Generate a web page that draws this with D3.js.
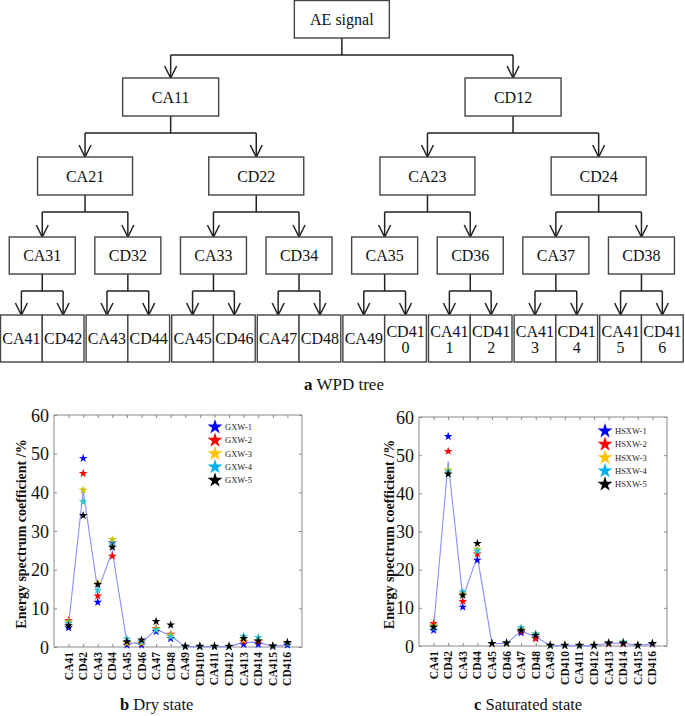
<!DOCTYPE html>
<html><head><meta charset="utf-8">
<script src="https://cdn.jsdelivr.net/npm/d3@7"></script>
<style>
html,body{margin:0;padding:0;background:#fff;}
svg{display:block;}
</style></head>
<body>
<svg id="c" width="685" height="716" font-family="Liberation Serif, Times New Roman, serif"></svg>
<script>
// ---------- DATA ----------
const level0 = ["AE signal"];
const level1 = ["CA11", "CD12"];
const level2 = ["CA21", "CD22", "CA23", "CD24"];
const level3 = ["CA31", "CD32", "CA33", "CD34", "CA35", "CD36", "CA37", "CD38"];
const categories = ["CA41","CD42","CA43","CD44","CA45","CD46","CA47","CD48","CA49","CD410","CA411","CD412","CA413","CD414","CA415","CD416"];
const yTicks = [0, 10, 20, 30, 40, 50, 60];

const dryNames = ["GXW-1", "GXW-2", "GXW-3", "GXW-4", "GXW-5"];
const gxw1 = [5.0, 48.8, 11.6, 27.0, 0.5, 0.5, 4.0, 2.2, 0.1, 0.1, 0.1, 0.1, 0.7, 0.7, 0.1, 0.5];
const gxw2 = [6.8, 44.9, 13.2, 23.5, 1.2, 1.0, 4.8, 3.3, 0.1, 0.1, 0.1, 0.1, 1.4, 1.4, 0.2, 0.9];
const gxw3 = [6.5, 40.6, 16.5, 27.8, 1.0, 1.1, 4.7, 3.1, 0.1, 0.1, 0.1, 0.1, 1.8, 1.7, 0.2, 1.1];
const gxw4 = [6.1, 37.6, 14.7, 26.4, 2.1, 1.4, 4.4, 2.7, 0.1, 0.1, 0.1, 0.1, 2.8, 2.5, 0.2, 0.9];
const gxw5 = [5.5, 34.0, 16.2, 25.8, 1.4, 1.8, 6.6, 5.7, 0.2, 0.2, 0.2, 0.2, 2.2, 1.6, 0.3, 1.2];
const dryLine = [5.9, 40.5, 14.5, 24.8, 1.0, 1.0, 4.6, 2.9, 0.1, 0.1, 0.1, 0.1, 1.2, 1.2, 0.2, 0.6];

const satNames = ["HSXW-1", "HSXW-2", "HSXW-3", "HSXW-4", "HSXW-5"];
const hsxw1 = [4.1, 54.9, 10.2, 22.5, 0.6, 0.7, 3.5, 2.1, 0.1, 0.1, 0.1, 0.1, 0.6, 0.6, 0.1, 0.5];
const hsxw2 = [5.9, 51.0, 11.7, 24.1, 0.6, 0.7, 3.9, 1.9, 0.1, 0.1, 0.1, 0.1, 0.6, 0.6, 0.1, 0.6];
const hsxw3 = [5.3, 46.1, 13.7, 25.4, 0.7, 0.8, 4.4, 3.0, 0.1, 0.1, 0.1, 0.1, 0.8, 0.9, 0.1, 0.7];
const hsxw4 = [4.7, 45.7, 14.2, 24.9, 0.7, 0.8, 4.8, 3.2, 0.1, 0.1, 0.1, 0.1, 0.8, 1.05, 0.1, 0.7];
const hsxw5 = [5.0, 45.1, 13.3, 26.9, 0.7, 0.8, 4.1, 2.8, 0.2, 0.2, 0.2, 0.2, 0.8, 0.8, 0.2, 0.7];
const satLine = [4.8, 48.3, 12.6, 23.5, 0.6, 0.7, 3.9, 2.4, 0.1, 0.1, 0.1, 0.1, 0.7, 0.8, 0.1, 0.6];

const markerColors = ["#0000ff", "#ff0000", "#c8c400", "#30c4cc", "#000000"];
const legendColors = ["#0000ff", "#ff0000", "#ffc000", "#00b0f0", "#000000"];

// ---------- TREE ----------
const FONT = "Liberation Serif, Times New Roman, serif";
const svg = d3.select("#c");
const ink = "#222";
const levels = [level0, level1, level2, level3, categories];
const boxY = [[0.5, 38], [78, 116], [157, 195], [237, 274], [315, 362]];
const boxW = [95, 96, 95, 66, 41.75];
const connY = [55, 133, 212, 291];
const pairStep = 85.6, leafW = 41.75;

const centers = [];
centers[4] = categories.map((d, i) => Math.floor(i / 2) * pairStep + (i % 2) * leafW + 0.5 + leafW / 2);
centers[3] = level3.map((d, p) => p * pairStep + 0.5 + leafW);
for (let L = 2; L >= 0; L--) {
  centers[L] = levels[L].map((d, i) => (centers[L + 1][2 * i] + centers[L + 1][2 * i + 1]) / 2);
}

const tree = svg.append("g");
for (let L = 0; L < 4; L++) {
  levels[L].forEach((d, i) => {
    const px = centers[L][i];
    const c1 = centers[L + 1][2 * i], c2 = centers[L + 1][2 * i + 1];
    tree.append("line").attr("x1", px).attr("x2", px).attr("y1", boxY[L][1]).attr("y2", connY[L])
      .attr("stroke", ink).attr("stroke-width", 1.5);
    tree.append("line").attr("x1", c1).attr("x2", c2).attr("y1", connY[L]).attr("y2", connY[L])
      .attr("stroke", ink).attr("stroke-width", 1.5);
    [c1, c2].forEach(cx => {
      const top = boxY[L + 1][0];
      tree.append("line").attr("x1", cx).attr("x2", cx).attr("y1", connY[L]).attr("y2", top)
        .attr("stroke", ink).attr("stroke-width", 1.5);
      tree.append("path").attr("d", `M${cx - 6},${top - 12}L${cx},${top}L${cx + 6},${top - 12}`)
        .attr("fill", "none").attr("stroke", ink).attr("stroke-width", 1.5);
    });
  });
}
levels.forEach((names, L) => {
  names.forEach((name, i) => {
    const cx = centers[L][i], w = boxW[L];
    const [y0, y1] = boxY[L];
    tree.append("rect").attr("x", cx - w / 2).attr("y", y0).attr("width", w).attr("height", y1 - y0)
      .attr("fill", "#fff").attr("stroke", "#444").attr("stroke-width", 1.4);
    const cy = (y0 + y1) / 2;
    if (L === 4 && name.length > 4) {
      const t = tree.append("text").attr("text-anchor", "middle").attr("font-family", FONT).attr("font-size", 16).attr("fill", "#111");
      t.append("tspan").attr("x", cx).attr("y", cy - 2).text(name.slice(0, 4));
      t.append("tspan").attr("x", cx).attr("y", cy + 14).text(name.slice(4));
    } else {
      tree.append("text").attr("x", cx).attr("y", cy).attr("dy", "0.35em").attr("text-anchor", "middle")
        .attr("font-family", FONT).attr("font-size", 16).attr("fill", "#111").text(name);
    }
  });
});

const capA = svg.append("text").attr("x", 344).attr("y", 390).attr("text-anchor", "middle").attr("font-family", FONT).attr("font-size", 17).attr("fill", "#111");
capA.append("tspan").attr("font-weight", "bold").text("a");
capA.append("tspan").text(" WPD tree");

// ---------- CHARTS ----------
function drawChart(opt) {
  const g = svg.append("g");
  const x = d3.scaleLinear().domain([0, 17]).range([opt.left, opt.right]);
  const y = d3.scaleLinear().domain([0, 60]).range([opt.bottom, opt.top]);
  const xPos = i => x(i + 1);

  g.append("rect").attr("x", opt.left).attr("y", opt.top).attr("width", opt.right - opt.left)
    .attr("height", opt.bottom - opt.top).attr("fill", "none").attr("stroke", "#8a8a8a").attr("stroke-width", 1);

  const yAxisL = d3.axisLeft(y).tickValues(yTicks).tickSizeInner(-3).tickSizeOuter(0).tickPadding(5);
  const gyl = g.append("g").attr("transform", `translate(${opt.left},0)`).call(yAxisL);
  gyl.select(".domain").remove();
  gyl.selectAll(".tick line").attr("stroke", "#8a8a8a");
  gyl.selectAll(".tick text").attr("font-family", FONT).attr("font-size", 18).attr("fill", "#111").attr("dy", "0.34em");

  const yAxisR = d3.axisRight(y).tickValues(yTicks).tickSizeInner(-3).tickSizeOuter(0).tickFormat("");
  const gyr = g.append("g").attr("transform", `translate(${opt.right},0)`).call(yAxisR);
  gyr.select(".domain").remove();
  gyr.selectAll(".tick line").attr("stroke", "#8a8a8a");

  const xAxisB = d3.axisBottom(x).tickValues(d3.range(1, 17)).tickSizeInner(-3).tickSizeOuter(0).tickFormat("");
  const gxb = g.append("g").attr("transform", `translate(0,${opt.bottom})`).call(xAxisB);
  gxb.select(".domain").remove();
  gxb.selectAll(".tick line").attr("stroke", "#8a8a8a");
  const xAxisT = d3.axisTop(x).tickValues(d3.range(1, 17)).tickSizeInner(-3).tickSizeOuter(0).tickFormat("");
  const gxt = g.append("g").attr("transform", `translate(0,${opt.top})`).call(xAxisT);
  gxt.select(".domain").remove();
  gxt.selectAll(".tick line").attr("stroke", "#8a8a8a");

  categories.forEach((c, i) => {
    g.append("text").attr("transform", `translate(${xPos(i) + 4},${opt.bottom + 5}) rotate(-90)`)
      .attr("text-anchor", "end").attr("font-family", FONT).attr("font-size", 11.5).attr("font-weight", "bold").attr("fill", "#111").text(c);
  });

  g.append("text").attr("transform", `translate(${opt.ylabX},${(opt.top + opt.bottom) / 2 + 3}) rotate(-90)`)
    .attr("text-anchor", "middle").attr("font-family", FONT).attr("font-size", 14).attr("font-weight", "bold").attr("fill", "#111")
    .text("Energy spectrum coefficient /%");

  const line = d3.line().x((d, i) => xPos(i)).y(d => y(d));
  g.append("path").attr("d", line(opt.line)).attr("fill", "none").attr("stroke", "#8c8cff").attr("stroke-width", 1.1);

  const star = d3.symbol(d3.symbolStar, 24);
  opt.series.forEach((s, k) => {
    g.selectAll(null).data(s).enter().append("path")
      .attr("d", star).attr("transform", (d, i) => `translate(${xPos(i)},${y(d)})`)
      .attr("fill", markerColors[k]);
  });

  const bigStar = d3.symbol(d3.symbolStar, 70);
  opt.names.forEach((n, k) => {
    const ry = opt.legY + k * 13.3;
    g.append("path").attr("d", bigStar).attr("transform", `translate(${opt.legX},${ry})`).attr("fill", legendColors[k]);
    g.append("text").attr("x", opt.legX + 10).attr("y", ry + 3).attr("font-family", FONT).attr("font-size", 8.5).attr("fill", "#222").text(n);
  });

  const cap = g.append("text").attr("x", opt.capX).attr("y", 710).attr("font-family", FONT).attr("font-size", 16.5).attr("fill", "#111");
  cap.append("tspan").attr("font-weight", "bold").text(opt.capLetter);
  cap.append("tspan").text(" " + opt.capText);
}

drawChart({
  left: 54, right: 302, top: 415, bottom: 647, ylabX: 26,
  series: [gxw1, gxw2, gxw3, gxw4, gxw5], line: dryLine, names: dryNames,
  legX: 215, legY: 427, capX: 120, capLetter: "b", capText: "Dry state"
});
drawChart({
  left: 419, right: 667, top: 417, bottom: 646, ylabX: 394,
  series: [hsxw1, hsxw2, hsxw3, hsxw4, hsxw5], line: satLine, names: satNames,
  legX: 605, legY: 431, capX: 474, capLetter: "c", capText: "Saturated state"
});
</script>
</body></html>
